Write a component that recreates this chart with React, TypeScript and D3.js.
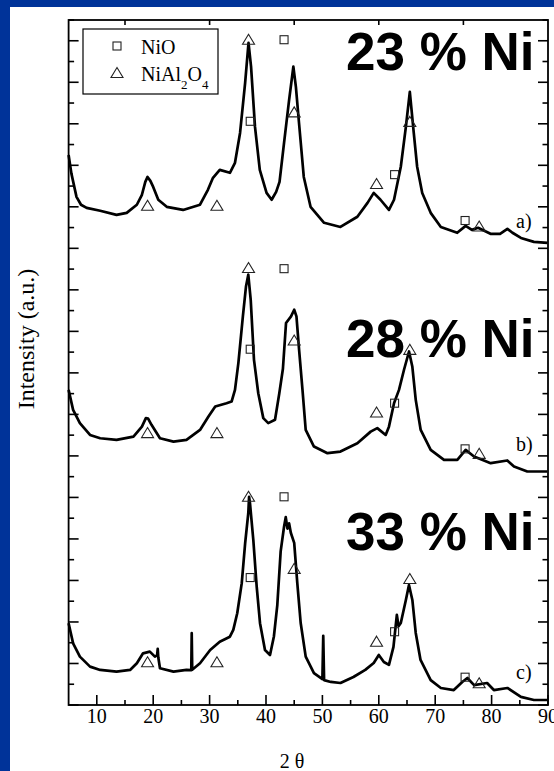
import React from 'react';
import * as d3 from 'd3';

// 2θ / intensity (a.u., stacked)
const patternA: [number, number][] = [
  [5.0, 2650], [5.5, 2560], [6.4, 2448], [7.2, 2410], [8.2, 2395], [10.6, 2381], [13.5, 2361],
  [15.3, 2371], [17.1, 2410], [18.0, 2458], [18.6, 2520], [19.0, 2544], [19.5, 2525], [20.0, 2496],
  [20.9, 2434], [22.4, 2400], [25.3, 2385], [28.3, 2410], [29.7, 2482], [30.6, 2540], [31.8, 2578],
  [33.6, 2564], [34.5, 2612], [35.4, 2756], [36.3, 2997], [36.9, 3190], [37.35, 3075], [38.05, 2785],
  [38.9, 2578], [40.1, 2467], [41.0, 2434], [41.8, 2472], [42.4, 2520], [43.2, 2708], [44.1, 2915],
  [44.85, 3075], [45.3, 2978], [45.85, 2805], [46.7, 2544], [47.9, 2400], [50.3, 2323], [53.2, 2303],
  [56.2, 2352], [58.0, 2419], [59.1, 2467], [60.3, 2434], [61.8, 2385], [62.7, 2434], [63.9, 2593],
  [64.8, 2785], [65.5, 2954], [66.2, 2756], [66.8, 2593], [67.7, 2467], [69.2, 2371], [71.0, 2303],
  [73.9, 2275], [75.4, 2308], [76.5, 2289], [77.6, 2299], [79.8, 2270], [81.5, 2270], [82.8, 2294],
  [83.7, 2275], [85.2, 2250], [87.5, 2231], [89.9, 2226],
];

const patternB: [number, number][] = [
  [5.0, 1518], [5.8, 1422], [7.0, 1358], [8.8, 1301], [10.6, 1285], [13.5, 1277], [16.5, 1293],
  [18.0, 1341], [18.7, 1382], [19.1, 1380], [19.7, 1350], [21.2, 1285], [23.6, 1269], [25.9, 1277],
  [28.3, 1325], [29.8, 1390], [31.0, 1438], [33.0, 1454], [33.9, 1462], [34.5, 1518], [35.1, 1647],
  [35.9, 1872], [36.45, 2016], [36.86, 2073], [37.29, 1952], [37.87, 1663], [38.63, 1502],
  [39.52, 1382], [40.4, 1358], [41.6, 1374], [42.36, 1502], [43.0, 1620], [43.55, 1840], [44.44, 1872],
  [45.0, 1904], [45.4, 1872], [45.87, 1711], [46.47, 1518], [47.04, 1325], [48.5, 1245], [50.9, 1213],
  [53.2, 1221], [56.2, 1261], [58.56, 1317], [59.73, 1334], [61.22, 1301], [61.8, 1341], [62.7, 1454],
  [63.58, 1518], [64.47, 1615], [65.36, 1703], [65.94, 1631], [66.55, 1470], [67.43, 1325],
  [69.2, 1229], [71.56, 1181], [73.92, 1181], [75.4, 1229], [76.88, 1197], [79.84, 1165],
  [82.78, 1178], [83.97, 1149], [86.33, 1125], [89.87, 1125],
];

const patternC: [number, number][] = [
  [5.0, 394], [5.8, 297], [7.0, 233], [8.8, 185], [10.6, 169], [13.5, 161], [15.9, 169], [17.1, 201],
  [18.2, 249], [19.4, 257], [20.3, 233], [20.7, 240], [20.8, 270], [20.9, 230], [21.2, 177],
  [23.6, 161], [25.9, 169], [26.75, 168], [26.83, 346], [26.92, 170], [28.3, 201], [30.1, 265],
  [31.8, 305], [33.6, 329], [34.2, 362], [34.9, 442], [35.7, 587], [36.3, 779], [36.86, 924],
  [37.0, 1003], [37.16, 972], [37.75, 795], [38.35, 570], [38.94, 394], [39.82, 265], [40.71, 241],
  [41.4, 330], [42.0, 480], [42.6, 740], [43.2, 859], [43.5, 905], [43.8, 850], [44.1, 875],
  [44.4, 830], [45.0, 781], [45.55, 587], [46.15, 395], [47.04, 233], [48.5, 154], [50.0, 125],
  [50.15, 333], [50.3, 120], [51.5, 111], [53.2, 106], [55.5, 135], [57.6, 169], [59.1, 202],
  [60.0, 241], [60.9, 207], [61.8, 193], [62.6, 280], [63.2, 434], [63.5, 380], [63.9, 395],
  [64.8, 506], [65.35, 578], [65.95, 506], [66.55, 347], [67.4, 217], [69.2, 120], [71.0, 82],
  [73.3, 72], [74.8, 111], [75.7, 130], [76.9, 96], [79.2, 106], [80.4, 72], [82.8, 82],
  [85.2, 39], [87.5, 24], [89.9, 24],
];

// reflection markers
const nioTheta = [37.2, 43.2, 62.8, 75.3];
const spinelTheta = [19.0, 31.3, 36.9, 45.0, 59.6, 65.5, 77.8];
const nioA = [2812, 3205, 2555, 2334];
const spinelA = [2405, 2405, 3205, 2855, 2510, 2809, 2305];
const nioB = [1714, 2102, 1454, 1234];
const spinelB = [1310, 1310, 2105, 1756, 1409, 1711, 1210];
const nioC = [614, 1003, 353, 134];
const spinelC = [206, 206, 1003, 656, 305, 607, 105];

const sampleLabels = ['23 % Ni', '28 % Ni', '33 % Ni'];
const sampleLetters = ['a)', 'b)', 'c)'];
const xTickValues = [10, 20, 30, 40, 50, 60, 70, 80, 90];
const xMinorValues = [15, 25, 35, 45, 55, 65, 75, 85];
const xTopValues = [15, 30, 45, 60, 75];

const W = 554;
const H = 771;
const BLUE = '#003399';
const SERIF = "'Liberation Serif', 'Times New Roman', serif";
const SANS = "'Liberation Sans', Arial, sans-serif";

export default function App() {
  const x = d3.scaleLinear().domain([5, 90]).range([68.6, 548]);
  const y = d3.scaleLinear().domain([0, 3300]).range([705, 20]);
  const line = d3
    .line<[number, number]>()
    .x((d) => x(d[0]))
    .y((d) => y(d[1]));

  const x0 = x.range()[0];
  const x1 = x.range()[1];
  const y0 = y.range()[0];
  const y1 = y.range()[1];
  const yTicks = d3.range(0, 3301, 100);

  const patterns = [patternA, patternB, patternC];
  const nioSets = [nioA, nioB, nioC];
  const spinelSets = [spinelA, spinelB, spinelC];

  const tri = (cx: number, cy: number) =>
    `M${cx},${cy - 5.5}L${cx + 6},${cy + 4.5}L${cx - 6},${cy + 4.5}Z`;

  return (
    <svg
      width={W}
      height={H}
      style={{ position: 'absolute', left: 0, top: 0, background: '#fff' }}
    >
      <rect x={0} y={0} width={W} height={H} fill="#fff" />
      <rect x={0} y={0} width={W} height={7} fill={BLUE} />
      <rect x={0} y={0} width={10} height={H} fill={BLUE} />

      {/* curves */}
      {patterns.map((p, i) => (
        <path
          key={i}
          d={line(p) || ''}
          fill="none"
          stroke="#000"
          strokeWidth={2.7}
          strokeLinejoin="round"
        />
      ))}

      {/* markers */}
      {nioSets.map((set, i) =>
        set.map((v, j) => (
          <rect
            key={`n${i}-${j}`}
            x={x(nioTheta[j]) - 4}
            y={y(v) - 4}
            width={8}
            height={8}
            fill="none"
            stroke="#222"
            strokeWidth={1.1}
          />
        ))
      )}
      {spinelSets.map((set, i) =>
        set.map((v, j) => (
          <path
            key={`s${i}-${j}`}
            d={tri(x(spinelTheta[j]), y(v))}
            fill="none"
            stroke="#222"
            strokeWidth={1.1}
          />
        ))
      )}

      {/* frame */}
      <rect
        x={x0}
        y={y1}
        width={x1 - x0}
        height={y0 - y1}
        fill="none"
        stroke="#000"
        strokeWidth={1.8}
      />
      {yTicks.map((v) => {
        const len = v % 200 === 0 ? 10 : 5.5;
        return (
          <g key={`yt${v}`}>
            <line x1={x0} x2={x0 + len} y1={y(v)} y2={y(v)} stroke="#000" strokeWidth={1.6} />
            <line x1={x1} x2={x1 - len} y1={y(v)} y2={y(v)} stroke="#000" strokeWidth={1.6} />
          </g>
        );
      })}
      {xTickValues.map((v) => (
        <g key={`xt${v}`}>
          <line x1={x(v)} x2={x(v)} y1={y0} y2={y0 - 10} stroke="#000" strokeWidth={1.6} />
          <text
            x={x(v)}
            y={723}
            textAnchor="middle"
            fontFamily={SERIF}
            fontSize={20}
            fill="#000"
          >
            {v}
          </text>
        </g>
      ))}
      {xMinorValues.map((v) => (
        <line key={`xm${v}`} x1={x(v)} x2={x(v)} y1={y0} y2={y0 - 5} stroke="#000" strokeWidth={1.6} />
      ))}
      {xTopValues.map((v) => (
        <line key={`xtop${v}`} x1={x(v)} x2={x(v)} y1={y1} y2={y1 + 5} stroke="#000" strokeWidth={1.6} />
      ))}

      {/* axis titles */}
      <text x={292} y={768} textAnchor="middle" fontFamily={SERIF} fontSize={20} fill="#000">
        2 θ
      </text>
      <text
        transform="translate(34,339) rotate(-90)"
        textAnchor="middle"
        fontFamily={SERIF}
        fontSize={24}
        fill="#000"
      >
        Intensity (a.u.)
      </text>

      {/* sample labels */}
      {sampleLabels.map((s, i) => (
        <text
          key={s}
          x={534.5}
          y={[70, 357, 550][i]}
          textAnchor="end"
          fontFamily={SANS}
          fontWeight="bold"
          fontSize={53}
          fill="#000"
        >
          {s}
        </text>
      ))}
      {sampleLetters.map((s, i) => (
        <text
          key={s}
          x={516}
          y={[228, 451, 679][i]}
          fontFamily={SERIF}
          fontSize={20}
          fill="#000"
        >
          {s}
        </text>
      ))}

      {/* legend */}
      <rect x={83} y={29} width={135} height={65} fill="#fff" stroke="#000" strokeWidth={1.2} />
      <rect x={113} y={42} width={8} height={8} fill="none" stroke="#222" strokeWidth={1.1} />
      <path d={tri(117, 73)} fill="none" stroke="#222" strokeWidth={1.1} />
      <text x={141} y={54} fontFamily={SERIF} fontSize={20} fill="#000">
        NiO
      </text>
      <text x={141} y={81} fontFamily={SERIF} fontSize={20} fill="#000">
        NiAl
        <tspan fontSize={13} dy={8}>2</tspan>
        <tspan dy={-8}>O</tspan>
        <tspan fontSize={13} dy={8}>4</tspan>
      </text>
    </svg>
  );
}
